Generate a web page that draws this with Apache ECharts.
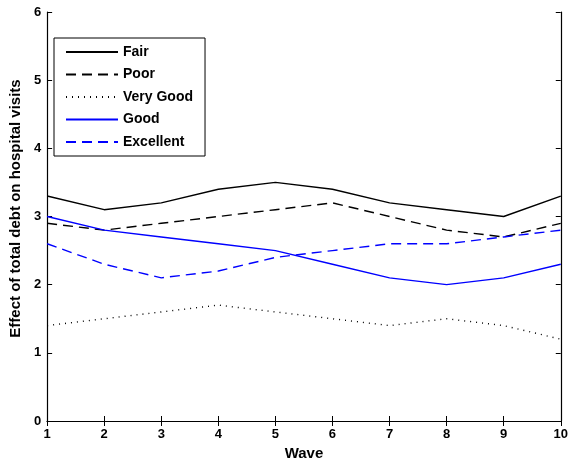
<!DOCTYPE html>
<html>
<head>
<meta charset="utf-8">
<script src="https://cdn.jsdelivr.net/npm/echarts@6/dist/echarts.min.js"></script>
<style>
  html, body { margin: 0; padding: 0; background: #fff; }
  #chart { width: 571px; height: 466px; }
</style>
</head>
<body>
<div id="chart"></div>
<script>
// Wave numbers along the x axis
const waves = [1, 2, 3, 4, 5, 6, 7, 8, 9, 10];

// Effect of total debt on hospital visits, by self-rated health
const fair      = [3.3, 3.1, 3.2, 3.4, 3.5, 3.4, 3.2, 3.1, 3.0, 3.3];
const poor      = [2.9, 2.8, 2.9, 3.0, 3.1, 3.2, 3.0, 2.8, 2.7, 2.9];
const veryGood  = [1.4, 1.5, 1.6, 1.7, 1.6, 1.5, 1.4, 1.5, 1.4, 1.2];
const good      = [3.0, 2.8, 2.7, 2.6, 2.5, 2.3, 2.1, 2.0, 2.1, 2.3];
const excellent = [2.6, 2.3, 2.1, 2.2, 2.4, 2.5, 2.6, 2.6, 2.7, 2.8];

const FONT = '"Liberation Sans", Arial, sans-serif';

function pairs(vals) {
  return waves.map((w, i) => [w, vals[i]]);
}

function series(name, vals, color, type) {
  return {
    name: name,
    type: 'line',
    data: pairs(vals),
    symbol: 'none',
    showSymbol: false,
    smooth: false,
    animation: false,
    lineStyle: { color: color, width: 1.4, type: type },
    itemStyle: { color: color }
  };
}

const chart = echarts.init(document.getElementById('chart'), null, { renderer: 'canvas' });

const tickCommon = {
  show: true,
  inside: true,
  length: 5,
  lineStyle: { color: '#000', width: 1 }
};

chart.setOption({
  animation: false,
  backgroundColor: '#fff',
  grid: { left: 43, right: 8, top: 12, bottom: 44, containLabel: false },
  legend: {
    orient: 'vertical',
    left: 54,
    top: 38,
    padding: [7, 12, 7, 11],
    itemWidth: 52,
    itemHeight: 12,
    itemGap: 8.5,
    borderColor: '#000',
    borderWidth: 1,
    backgroundColor: '#fff',
    itemStyle: { opacity: 0 },
    textStyle: { fontFamily: FONT, fontWeight: 'bold', fontSize: 14, color: '#000' },
    data: ['Fair', 'Poor', 'Very Good', 'Good', 'Excellent']
  },
  xAxis: [
    {
      type: 'value',
      position: 'bottom',
      min: 1, max: 10, interval: 1,
      name: 'Wave',
      nameLocation: 'middle',
      nameGap: 25,
      nameTextStyle: { fontFamily: FONT, fontWeight: 'bold', fontSize: 15, color: '#000' },
      axisLine: { show: true, lineStyle: { color: '#000', width: 1.2 } },
      axisTick: tickCommon,
      axisLabel: { fontFamily: FONT, fontWeight: 'bold', fontSize: 13, color: '#000', margin: 7 },
      splitLine: { show: false }
    },
    {
      type: 'value',
      position: 'top',
      min: 1, max: 10, interval: 1,
      axisLine: { show: true, lineStyle: { color: '#000', width: 1.2 } },
      axisTick: tickCommon,
      axisLabel: { show: false },
      splitLine: { show: false }
    }
  ],
  yAxis: [
    {
      type: 'value',
      position: 'left',
      min: 0, max: 6, interval: 1,
      name: 'Effect of total debt on hospital visits',
      nameLocation: 'middle',
      nameGap: 20,
      nameTextStyle: {
        fontFamily: FONT, fontWeight: 'bold', fontSize: 15, color: '#000',
        padding: [0, 0, 0, 16]
      },
      axisLine: { show: true, lineStyle: { color: '#000', width: 1.2 } },
      axisTick: tickCommon,
      axisLabel: { fontFamily: FONT, fontWeight: 'bold', fontSize: 13, color: '#000', margin: 6 },
      splitLine: { show: false }
    },
    {
      type: 'value',
      position: 'right',
      min: 0, max: 6, interval: 1,
      axisLine: { show: true, lineStyle: { color: '#000', width: 1.2 } },
      axisTick: tickCommon,
      axisLabel: { show: false },
      splitLine: { show: false }
    }
  ],
  series: [
    series('Fair', fair, '#000', 'solid'),
    series('Poor', poor, '#000', [10, 6]),
    series('Very Good', veryGood, '#000', [1, 5]),
    series('Good', good, '#0000ff', 'solid'),
    series('Excellent', excellent, '#0000ff', [10, 6])
  ]
});
</script>
</body>
</html>
